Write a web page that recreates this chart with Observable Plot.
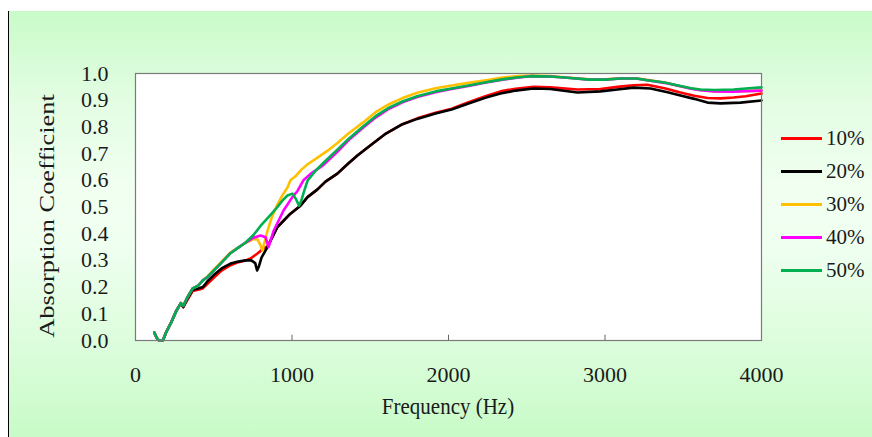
<!DOCTYPE html>
<html>
<head>
<meta charset="utf-8">
<script src="https://cdn.jsdelivr.net/npm/d3@7"></script>
<script src="https://cdn.jsdelivr.net/npm/@observablehq/plot@0.6"></script>
<style>
  html, body { margin: 0; padding: 0; background: #ffffff; }
  #wrap { position: relative; width: 872px; height: 437px; overflow: hidden; background: #ffffff;
          font-family: "Liberation Serif", "Times New Roman", serif; color: #1a1a1a; }
  #panel { position: absolute; left: 8px; top: 11px; width: 864px; height: 426px;
           border-left: 1.5px solid #000;
           background: linear-gradient(to bottom, #c9fbc9 0%, #e4fde4 22%, #f1fff1 42%, #effff0 55%, #dcfddc 78%, #c8fbc8 100%); }
  #chart { position: absolute; left: 0; top: 0; }
  .title { position: absolute; white-space: nowrap; }
  #xtitle { left: 448px; top: 407px; font-size: 21px; transform: translate(-50%, -50%) scaleY(1.1); }
  #ytitle { left: 47px; top: 216px; font-size: 22px; transform: translate(-50%, -50%) rotate(-90deg) scaleX(1.2); }
  .leg { position: absolute; left: 781px; height: 24px; display: flex; align-items: center; font-size: 21px; }
  .leg span.sw { display: inline-block; width: 41px; height: 3px; margin-right: 4px; }
</style>
</head>
<body>
<div id="wrap">
  <div id="panel"></div>
  <div id="chart"></div>
  <div id="xtitle" class="title">Frequency (Hz)</div>
  <div id="ytitle" class="title">Absorption Coefficient</div>
</div>
<script>
// ---- data ----
const seriesNames = ["10%", "20%", "30%", "40%", "50%"];
const seriesColors = ["#ff0000", "#000000", "#ffc000", "#ff00ff", "#00b050"];
const xTicks = [0, 1000, 2000, 3000, 4000];
const yTicks = [0, 0.1, 0.2, 0.3, 0.4, 0.5, 0.6, 0.7, 0.8, 0.9, 1.0];

const lowFreq = [120,135,150,175,195,230,260,290,305,330,365,400,430];
const lowUpper = [0.03,0.01,0,0,0.03,0.07,0.11,0.14,0.13,0.16,0.195,0.205,0.225];
const lowLower = [0.03,0.01,0,0,0.03,0.07,0.11,0.14,0.125,0.155,0.19,0.195,0.20];
const lowRed   = [0.03,0.01,0,0,0.03,0.07,0.11,0.14,0.125,0.15,0.185,0.19,0.195];

const freq10 = lowFreq.concat([460,500,550,607,650,703,735,777,820,843,907,990,1054,1099,1161,1214,1290,1354,1418,1500,1600,1706,1800,1917,2020,2128,2240,2332,2428,2543,2650,2824,2971,3080,3182,3270,3380,3482,3570,3655,3738,3821,3900,4000]);
const abs10 = lowRed.concat([0.212,0.235,0.262,0.282,0.292,0.30,0.307,0.325,0.345,0.352,0.425,0.475,0.505,0.537,0.565,0.595,0.625,0.66,0.693,0.73,0.775,0.81,0.832,0.853,0.868,0.892,0.916,0.933,0.943,0.95,0.948,0.94,0.942,0.95,0.956,0.958,0.945,0.929,0.917,0.908,0.907,0.91,0.915,0.925]);

const freq20 = lowFreq.concat([460,500,550,607,650,703,740,765,777,790,805,843,907,990,1054,1099,1161,1214,1290,1354,1418,1500,1600,1706,1800,1917,2020,2128,2240,2332,2428,2543,2650,2824,2971,3080,3182,3291,3400,3482,3570,3655,3738,3866,4000]);
const abs20 = lowLower.concat([0.222,0.245,0.27,0.288,0.295,0.30,0.30,0.29,0.262,0.28,0.31,0.35,0.425,0.475,0.505,0.537,0.565,0.595,0.625,0.66,0.693,0.73,0.775,0.81,0.83,0.85,0.865,0.888,0.91,0.925,0.936,0.944,0.942,0.929,0.933,0.94,0.947,0.944,0.93,0.918,0.905,0.891,0.888,0.891,0.899]);

const freq30 = lowFreq.concat([460,500,550,607,650,700,754,780,800,811,825,843,870,907,940,971,990,1022,1060,1100,1163,1230,1290,1361,1450,1534,1620,1706,1800,1917,2020,2128,2240,2345,2450,2524,2650,2760,2900,3000,3099,3200,3270,3380,3482,3550,3610,3700,3821,3900,4000]);
const abs30 = lowUpper.concat([0.24,0.265,0.295,0.33,0.345,0.365,0.38,0.378,0.355,0.337,0.37,0.41,0.46,0.51,0.545,0.573,0.60,0.615,0.64,0.66,0.685,0.712,0.74,0.775,0.815,0.855,0.885,0.908,0.928,0.945,0.955,0.965,0.975,0.985,0.99,0.992,0.99,0.985,0.978,0.978,0.982,0.982,0.976,0.966,0.952,0.944,0.938,0.933,0.933,0.934,0.936]);

const freq40 = lowFreq.concat([460,500,550,607,650,700,754,799,831,850,882,946,1000,1035,1073,1120,1163,1200,1290,1361,1450,1534,1620,1706,1800,1917,2020,2128,2240,2345,2450,2524,2650,2760,2900,3000,3099,3200,3270,3380,3482,3550,3610,3700,3821,3900,4000]);
const abs40 = lowUpper.concat([0.237,0.262,0.292,0.327,0.345,0.365,0.385,0.393,0.387,0.35,0.41,0.487,0.535,0.56,0.60,0.625,0.642,0.657,0.707,0.75,0.795,0.835,0.868,0.892,0.912,0.93,0.942,0.953,0.966,0.977,0.985,0.99,0.989,0.984,0.977,0.977,0.981,0.981,0.975,0.965,0.952,0.943,0.937,0.933,0.932,0.934,0.936]);

const freq50 = lowFreq.concat([460,500,550,607,650,700,754,800,831,870,907,940,971,1003,1025,1045,1060,1075,1100,1150,1200,1290,1361,1450,1534,1620,1706,1800,1917,2020,2128,2240,2345,2450,2524,2650,2760,2900,3000,3099,3200,3270,3380,3482,3550,3610,3700,3821,3900,4000]);
const abs50 = lowUpper.concat([0.238,0.262,0.292,0.327,0.345,0.365,0.395,0.43,0.45,0.475,0.50,0.525,0.543,0.55,0.53,0.505,0.525,0.555,0.60,0.635,0.665,0.715,0.755,0.80,0.84,0.872,0.895,0.915,0.933,0.944,0.955,0.967,0.978,0.986,0.99,0.989,0.984,0.977,0.977,0.981,0.981,0.975,0.966,0.953,0.945,0.94,0.938,0.94,0.944,0.948]);

const freqs = [freq10, freq20, freq30, freq40, freq50];
const absorbs = [abs10, abs20, abs30, abs40, abs50];

const rows = [];
seriesNames.forEach((s, i) => {
  freqs[i].forEach((f, j) => rows.push({series: s, f, a: absorbs[i][j]}));
});

const chart = Plot.plot({
  width: 872,
  height: 437,
  marginLeft: 135,
  marginRight: 111,
  marginTop: 73,
  marginBottom: 97,
  style: {background: "transparent", fontFamily: "'Liberation Serif', 'Times New Roman', serif", fontSize: "22px", color: "#1a1a1a"},
  x: {domain: [0, 4000], ticks: xTicks, tickFormat: d => String(d), tickSize: 0, tickPadding: 26, label: null},
  y: {domain: [0, 1], ticks: yTicks, tickFormat: d => d.toFixed(1), tickSize: 0, tickPadding: 27, label: null},
  color: {domain: seriesNames, range: seriesColors},
  marks: [
    Plot.frame({fill: "white"}),
    Plot.line(rows, {x: "f", y: "a", z: "series", stroke: "series", strokeWidth: 2.6, curve: "linear"}),
    Plot.ruleX(xTicks.slice(1, -1), {y1: 0, y2: 0.02, stroke: "#666", strokeWidth: 1}),
    Plot.frame({stroke: "#7a7a7a", strokeWidth: 1.2})
  ]
});
document.getElementById("chart").appendChild(chart);

// legend
const legendY = [138, 171, 204, 237, 270];
const wrap = document.getElementById("wrap");
seriesNames.forEach((s, i) => {
  const d = document.createElement("div");
  d.className = "leg";
  d.style.top = (legendY[i] - 12) + "px";
  d.innerHTML = `<span class="sw" style="background:${seriesColors[i]}"></span><span>${s}</span>`;
  wrap.appendChild(d);
});
</script>
</body>
</html>
